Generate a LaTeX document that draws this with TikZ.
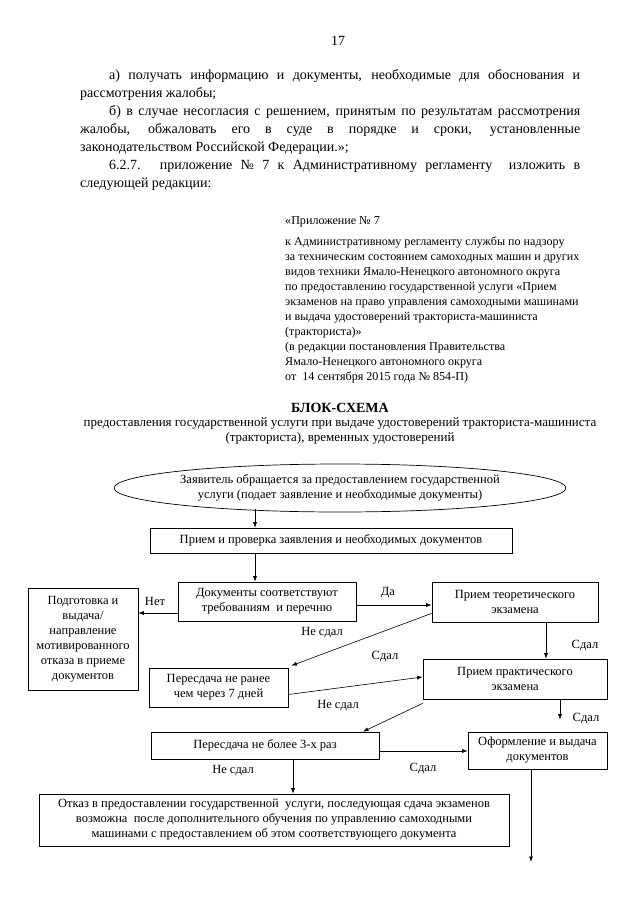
\documentclass[tikz,border=0pt]{standalone}
\usepackage{fontspec}
\setmainfont{Liberation Serif}
\usetikzlibrary{arrows.meta,shapes.geometric}
\newcommand\bodyf{\fontsize{14}{18}\selectfont}
\newcommand\appf{\fontsize{12.1}{15}\selectfont}
\newcommand\flowf{\fontsize{12.5}{15}\selectfont}
\begin{document}
\begin{tikzpicture}[x=1pt,y=-1pt,
  box/.style={draw, line width=0.7pt, rectangle, inner sep=1pt, align=center, font=\flowf},
  arr/.style={-{Latex[length=5.5pt,width=4pt]}, line width=0.6pt},
  lab/.style={font=\flowf, inner sep=0}]
\fill[white] (0,0) rectangle (640,905);
\useasboundingbox (0,0) rectangle (640,905);

% page number
\node[font=\bodyf, inner sep=0] (pg) at (338,41) {17};

% body text
\node[anchor=north west, text width=500pt, align=justify, font=\bodyf, inner sep=0] (body) at (80,69)
{\hspace*{29pt}а)~получать информацию и документы, необходимые для обоснования и\linebreak рассмотрения жалобы;\par
\hspace*{29pt}б) в случае несогласия с решением, принятым по результатам рассмотрения\linebreak жалобы, обжаловать его в суде в порядке и сроки, установленные\linebreak законодательством Российской Федерации.»;\par
\hspace*{29pt}6.2.7. приложение № 7 к Административному регламенту\ \ изложить в\linebreak следующей редакции:\par};

% appendix header
\node[anchor=west, font=\appf, inner sep=0] (app) at (285,222) {«Приложение № 7};
\node[anchor=north west, align=left, font=\appf, inner sep=0] (appt) at (285,237)
{к Административному регламенту службы по надзору\\
за техническим состоянием самоходных машин и других\\
видов техники Ямало-Ненецкого автономного округа\\
по предоставлению государственной услуги «Прием\\
экзаменов на право управления самоходными машинами\\
и выдача удостоверений тракториста-машиниста\\
(тракториста)»\\
(в редакции постановления Правительства\\
Ямало-Ненецкого автономного округа\\
от\ \ 14 сентября 2015 года № 854-П)};

% title
\node[font=\bodyf\bfseries, inner sep=0] (title) at (340,408) {БЛОК-СХЕМА};
\node[font=\fontsize{13}{15}\selectfont, align=center, inner sep=0, anchor=north] (sub) at (340,417)
{предоставления государственной услуги при выдаче удостоверений тракториста-машиниста\\
(тракториста), временных удостоверений};

% flowchart nodes
\node[draw, line width=0.7pt, ellipse, minimum width=380pt, minimum height=48pt, inner sep=0, align=center, font=\flowf] (ell) at (340,488)
{Заявитель обращается за предоставлением государственной\\услуги (подает заявление и необходимые документы)};
\node[box, minimum width=362pt, minimum height=25pt] (pp) at (331,540.5) {Прием и проверка заявления и необходимых документов};
\node[box, minimum width=178pt, minimum height=39pt] (docs) at (267,601.5) {Документы соответствуют\\требованиям\ \ и перечню};
\node[box, minimum width=110pt, minimum height=102pt] (rej) at (83,639) {Подготовка и\\выдача/\\направление\\мотивированного\\отказа в приеме\\документов};
\node[box, minimum width=166pt, minimum height=40pt] (th) at (515,602) {Прием теоретического\\экзамена};
\node[box, minimum width=184pt, minimum height=40pt] (pr) at (515,679) {Прием практического\\экзамена};
\node[box, minimum width=139pt, minimum height=39pt] (r7) at (218.5,687.5) {Пересдача не ранее\\чем через 7 дней};
\node[box, minimum width=228pt, minimum height=27pt] (r3) at (265,745.5) {Пересдача не более 3-х раз};
\node[box, minimum width=139pt, minimum height=37pt] (ofo) at (537.5,750.5) {Оформление и выдача\\документов};
\node[box, minimum width=470pt, minimum height=52pt] (ref) at (274,820) {Отказ в предоставлении государственной\ \ услуги, последующая сдача экзаменов\\возможна\ \ после дополнительного обучения по управлению самоходными\\машинами с предоставлением об этом соответствующего документа};

% helper coordinates
\coordinate (e1) at (255,509);
\coordinate (ax) at (255,0);
\coordinate (thx) at (546,0);
\coordinate (prx) at (560,0);
\coordinate (r3x) at (293,0);
\coordinate (ofx) at (531,0);
\coordinate (end) at (531,862);
\coordinate (ny) at (0,613);
\coordinate (dy) at (0,605);
\coordinate (sy) at (0,751);

% connectors
\draw[arr] (e1) -- (e1 |- pp.north);
\draw[arr] (pp.south -| ax) -- (docs.north -| ax);
\draw[arr] (docs.west |- ny) -- (rej.east |- ny);
\draw[arr] (docs.east |- dy) -- (th.west |- dy);
\draw[arr] (th.south -| thx) -- (pr.north -| thx);
\draw[arr] ([yshift=9pt]th.south west) -- ([xshift=3pt,yshift=2pt]r7.north east);
\draw[arr] ([yshift=-7pt]r7.east) -- ([yshift=2pt]pr.west);
\draw[arr] ([yshift=-4pt]pr.south west) -- ([xshift=98pt]r3.north);
\draw[arr, shorten >=12pt] (pr.south -| prx) -- (ofo.north -| prx);
\draw[arr] (r3.east |- sy) -- (ofo.west |- sy);
\draw[arr] (r3.south -| r3x) -- (ref.north -| r3x);
\draw[arr] (ofo.south -| ofx) -- (end);

% labels
\node[lab] (lnet) at (155,601) {Нет};
\node[lab] (lda) at (388,593) {Да};
\node[lab] (ls1) at (585,646) {Сдал};
\node[lab] (lns1) at (322,633) {Не сдал};
\node[lab] (ls2) at (385,657) {Сдал};
\node[lab] (lns2) at (338,706) {Не сдал};
\node[lab] (ls3) at (586,719) {Сдал};
\node[lab] (ls4) at (423,769) {Сдал};
\node[lab] (lns3) at (233,771) {Не сдал};
\end{tikzpicture}
\end{document}
